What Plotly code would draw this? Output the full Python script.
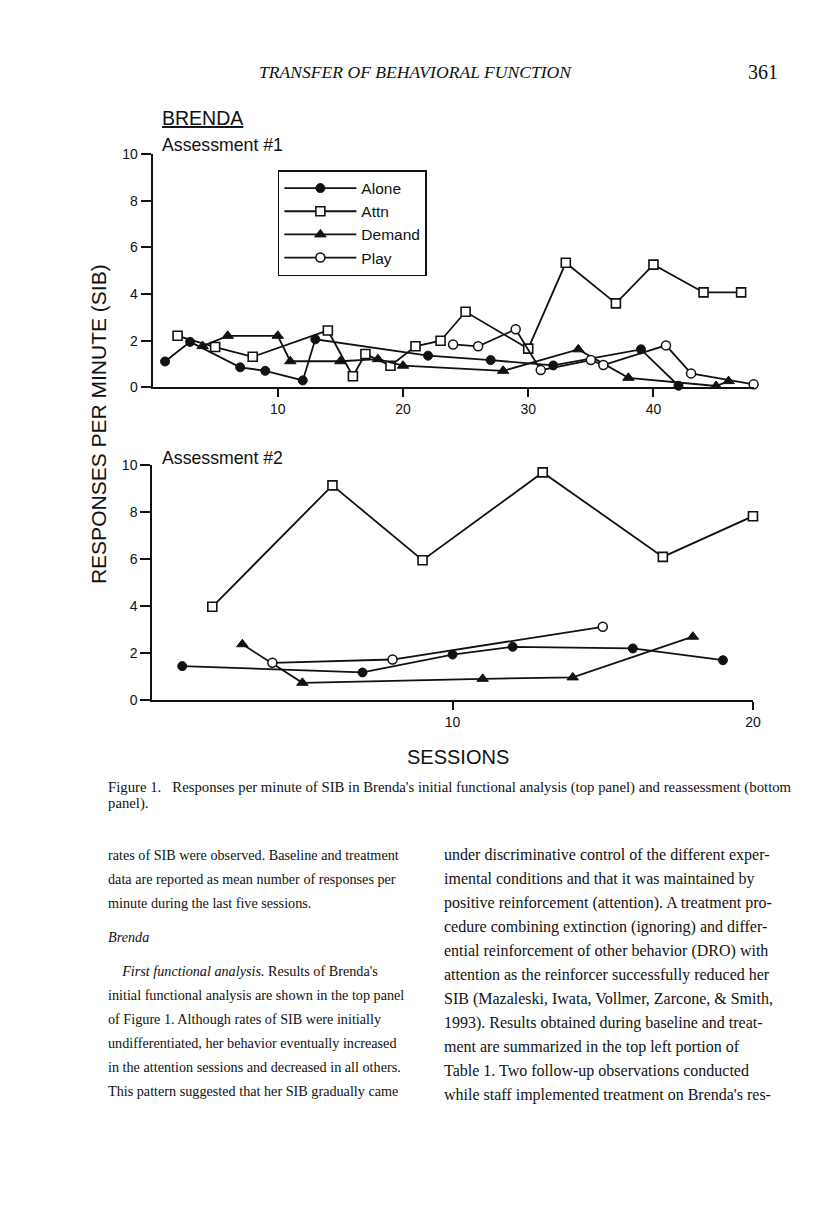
import plotly.graph_objects as go

W, H = 800, 1189
# observed mapping from figure pixels to the photographed page (scale, offset)
SX, OX = 0.985, 9.5
SY, OY = 0.9863, 16.0

# ---------------- data ----------------
conditions = ["Alone", "Attn", "Demand", "Play"]

# Assessment #1 (top panel)
a1_alone_x = [1, 3, 7, 9, 12, 13, 22, 27, 32, 39, 42]
a1_alone_y = [1.11, 1.95, 0.86, 0.71, 0.30, 2.06, 1.36, 1.17, 0.94, 1.63, 0.07]
a1_attn_x = [2, 5, 8, 14, 16, 17, 19, 21, 23, 25, 30, 33, 37, 40, 44, 47]
a1_attn_y = [2.21, 1.73, 1.31, 2.44, 0.48, 1.43, 0.93, 1.76, 2.00, 3.24, 1.66, 5.34, 3.60, 5.26, 4.07, 4.07]
a1_demand_x = [4, 6, 10, 11, 15, 18, 20, 28, 34, 38, 45, 46]
a1_demand_y = [1.77, 2.21, 2.21, 1.12, 1.12, 1.21, 0.93, 0.71, 1.63, 0.41, 0.06, 0.27]
a1_play_x = [24, 26, 29, 31, 35, 36, 41, 43, 48]
a1_play_y = [1.84, 1.76, 2.49, 0.74, 1.17, 0.96, 1.80, 0.60, 0.13]

# Assessment #2 (bottom panel)
a2_alone_x = [1, 7, 10, 12, 16, 19]
a2_alone_y = [1.46, 1.19, 1.95, 2.28, 2.21, 1.71]
a2_attn_x = [2, 6, 9, 13, 17, 20]
a2_attn_y = [3.98, 9.14, 5.96, 9.69, 6.10, 7.83]
a2_demand_x = [3, 5, 11, 14, 18]
a2_demand_y = [2.39, 0.75, 0.92, 0.98, 2.71]
a2_play_x = [4, 8, 15]
a2_play_y = [1.60, 1.74, 3.13]

y_ticks = [0, 2, 4, 6, 8, 10]
x1_ticks = [10, 20, 30, 40]
x2_ticks = [10, 20]

header_title = "TRANSFER OF BEHAVIORAL FUNCTION"
page_number = "361"
caption_lines = [
    "Figure 1.   Responses per minute of SIB in Brenda's initial functional analysis (top panel) and reassessment (bottom",
    "panel).",
]
left_col = [
    "rates of SIB were observed. Baseline and treatment",
    "data are reported as mean number of responses per",
    "minute during the last five sessions.",
    "<i>Brenda</i>",
    "    <i>First functional analysis.</i> Results of Brenda's",
    "initial functional analysis are shown in the top panel",
    "of Figure 1. Although rates of SIB were initially",
    "undifferentiated, her behavior eventually increased",
    "in the attention sessions and decreased in all others.",
    "This pattern suggested that her SIB gradually came",
]
left_col_y = [855, 879, 903, 937, 971, 995, 1019, 1043, 1067, 1091]
right_col = [
    "under discriminative control of the different exper-",
    "imental conditions and that it was maintained by",
    "positive reinforcement (attention). A treatment pro-",
    "cedure combining extinction (ignoring) and differ-",
    "ential reinforcement of other behavior (DRO) with",
    "attention as the reinforcer successfully reduced her",
    "SIB (Mazaleski, Iwata, Vollmer, Zarcone, & Smith,",
    "1993). Results obtained during baseline and treat-",
    "ment are summarized in the top left portion of",
    "Table 1. Two follow-up observations conducted",
    "while staff implemented treatment on Brenda's res-",
]
right_col_y = [855, 879, 903, 927, 951, 975, 999, 1023, 1047, 1071, 1095]

# ---------------- styles ----------------
SANS = "Liberation Sans, Arial, Helvetica, sans-serif"
SERIF = "Liberation Serif, Times New Roman, serif"
INK = "#111111"
styles = {
    "Alone": dict(symbol="circle", size=9, color=INK, line=dict(color=INK, width=1)),
    "Attn": dict(symbol="square", size=9, color="white", line=dict(color=INK, width=1.6)),
    "Demand": dict(symbol="triangle-up", size=10, color=INK, line=dict(color=INK, width=1)),
    "Play": dict(symbol="circle", size=9, color="white", line=dict(color=INK, width=1.5)),
}

def px(x):
    # page x (reference pixels) -> paper fraction
    return ((x - OX) / SX) / W

def py(y):
    return 1 - ((y - OY) / SY) / H

fig = go.Figure()

top = {"Alone": (a1_alone_x, a1_alone_y), "Attn": (a1_attn_x, a1_attn_y),
       "Demand": (a1_demand_x, a1_demand_y), "Play": (a1_play_x, a1_play_y)}
bot = {"Alone": (a2_alone_x, a2_alone_y), "Attn": (a2_attn_x, a2_attn_y),
       "Demand": (a2_demand_x, a2_demand_y), "Play": (a2_play_x, a2_play_y)}

for name in conditions:
    xs, ys = top[name]
    fig.add_trace(go.Scatter(x=xs, y=ys, name=name, mode="lines+markers",
                             line=dict(color=INK, width=1.8), marker=styles[name],
                             cliponaxis=False, xaxis="x", yaxis="y"))
for name in conditions:
    xs, ys = bot[name]
    fig.add_trace(go.Scatter(x=xs, y=ys, name=name, mode="lines+markers", showlegend=False,
                             line=dict(color=INK, width=1.8), marker=styles[name],
                             cliponaxis=False, xaxis="x2", yaxis="y2"))

axis_common = dict(showline=True, linecolor=INK, linewidth=2, ticks="outside",
                   tickcolor=INK, tickwidth=2, showgrid=False, zeroline=False,
                   tickfont=dict(family=SANS, size=14, color=INK))

fig.update_layout(
    width=W, height=H, autosize=False,
    margin=dict(l=0, r=0, t=0, b=0),
    paper_bgcolor="white", plot_bgcolor="white",
    xaxis=dict(domain=[px(153.3), px(752)], range=[0, 48.05], tickvals=x1_ticks,
               ticklen=8, anchor="y", **axis_common),
    yaxis=dict(domain=[py(387.3), py(154)], range=[0, 10], tickvals=y_ticks,
               ticklen=10, anchor="x", **axis_common),
    xaxis2=dict(domain=[px(153), px(750.7)], range=[0, 20], tickvals=x2_ticks,
                ticklen=8, anchor="y2", **axis_common),
    yaxis2=dict(domain=[py(700.3), py(465)], range=[0, 10], tickvals=y_ticks,
                ticklen=10, anchor="x2", **axis_common),
    legend=dict(x=px(278), y=py(170), xanchor="left", yanchor="top",
                bordercolor=INK, borderwidth=1.5, bgcolor="white",
                font=dict(family=SANS, size=15.5, color=INK), tracegroupgap=0,
                itemwidth=72),
    showlegend=True,
)

ann = []
def add(text, x, y, size, family=SANS, xanchor="left", yanchor="middle", angle=0):
    ann.append(dict(text=text, x=px(x), y=py(y), xref="paper", yref="paper",
                    xanchor=xanchor, yanchor=yanchor, showarrow=False, textangle=angle,
                    font=dict(family=family, size=size, color=INK)))

add("<i>" + header_title + "</i>", 415, 72, 17.6, SERIF, xanchor="center")
add(page_number, 778, 72, 20, SERIF, xanchor="right")
add("<u>BRENDA</u>", 161, 118, 19.5)
add("Assessment #1", 161, 145, 17.7)
add("Assessment #2", 161, 458, 17.7)
add("RESPONSES PER MINUTE (SIB)", 99, 424, 21, xanchor="center", angle=-90)
add("SESSIONS", 457, 757, 20, xanchor="center")
add(caption_lines[0], 107, 787, 14.75, SERIF)
add(caption_lines[1], 107, 803, 14.75, SERIF)
for t, yy in zip(left_col, left_col_y):
    add(t, 107, yy, 14.2, SERIF)
for t, yy in zip(right_col, right_col_y):
    add(t, 441, yy, 16, SERIF)

fig.update_layout(annotations=ann)
fig.write_html("out.html")
